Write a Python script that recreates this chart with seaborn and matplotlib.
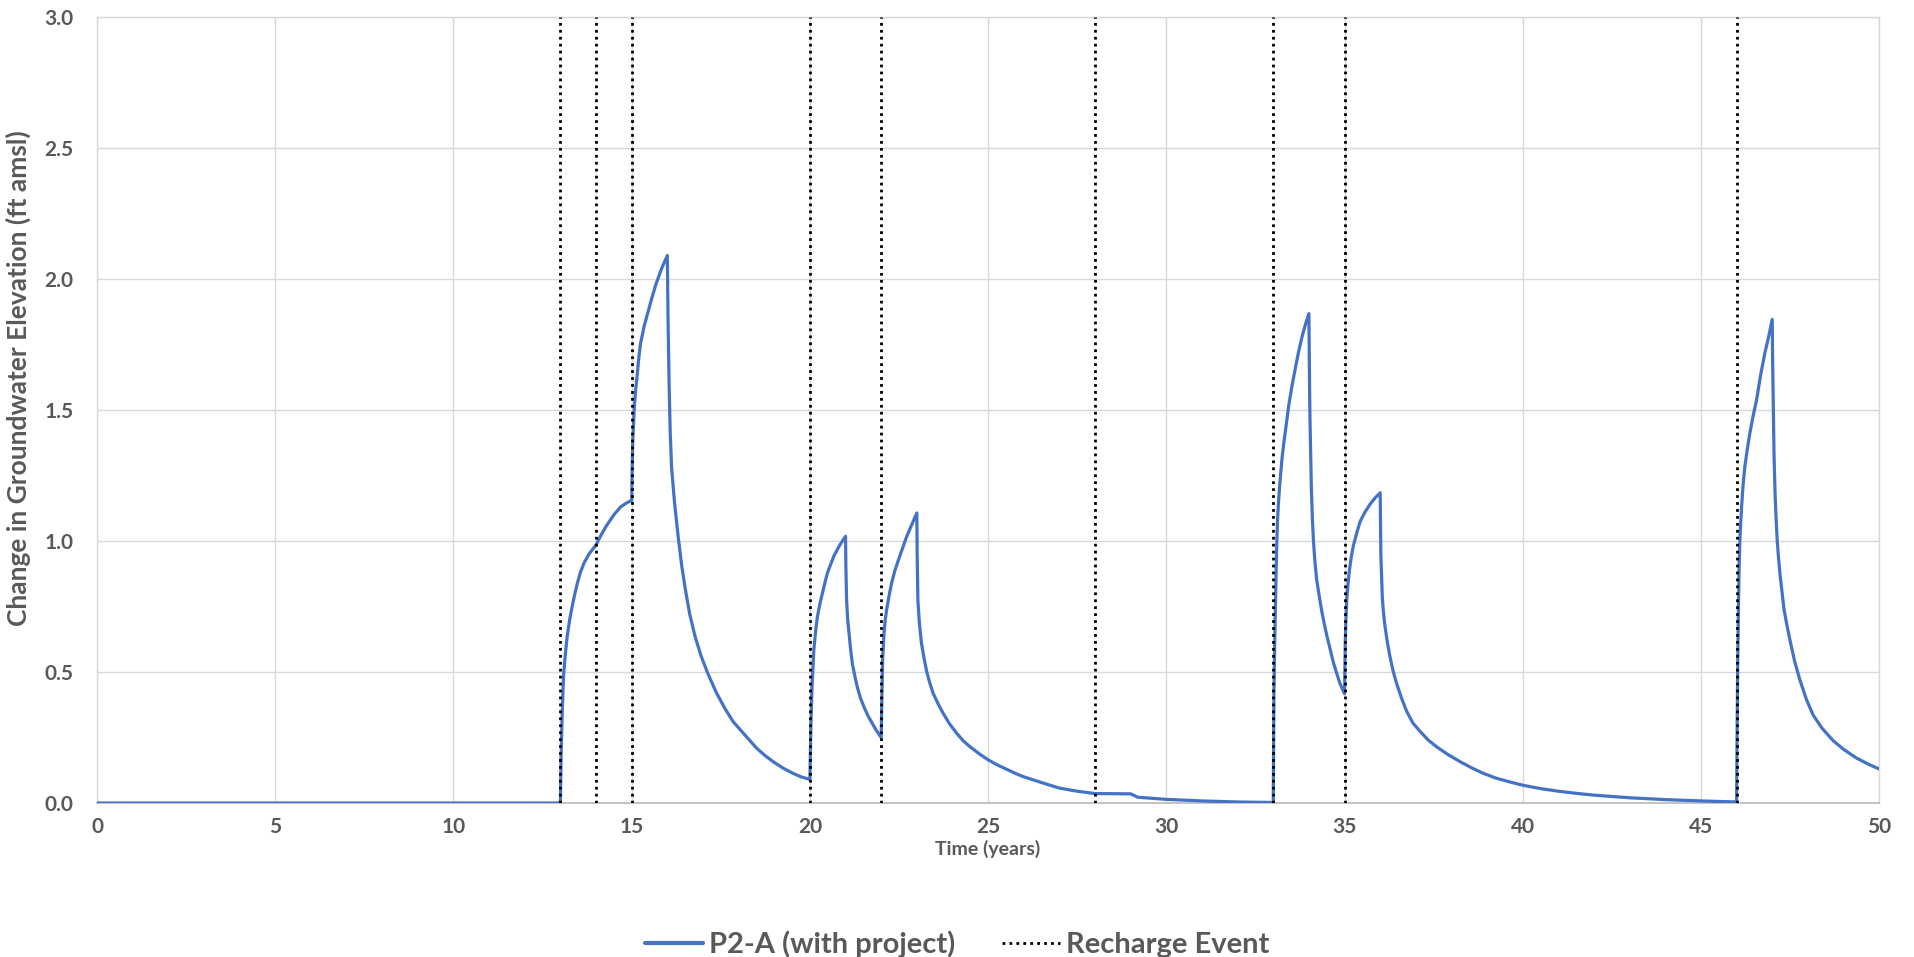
import pandas as pd
import seaborn as sns
import matplotlib
matplotlib.use("Agg")
import matplotlib.pyplot as plt
from matplotlib.lines import Line2D

# values (time in years, change in ft)
time_yr = [
    0.0, 13.0,
    13.02, 13.05, 13.09, 13.14, 13.19, 13.26, 13.33, 13.4, 13.47, 13.56, 13.66, 13.8,
    14.0, 14.15, 14.3, 14.5, 14.69, 14.85, 15.0,
    15.01, 15.03, 15.07, 15.11, 15.16, 15.2, 15.25, 15.35, 15.45, 15.56, 15.68, 15.84, 16.0,
    16.02, 16.05, 16.08, 16.12, 16.2, 16.31, 16.4, 16.5, 16.63, 16.78, 16.95, 17.15,
    17.38, 17.62, 17.85, 18.07, 18.3, 18.5, 18.75, 19.0, 19.25, 19.5, 19.75, 20.0,
    20.015, 20.03, 20.06, 20.11, 20.16, 20.21, 20.28, 20.35, 20.42, 20.49, 20.58,
    20.68, 20.84, 21.0,
    21.01, 21.03, 21.06, 21.1, 21.14, 21.19, 21.26, 21.33, 21.42, 21.52, 21.63,
    21.75, 21.87, 22.0,
    22.01, 22.02, 22.04, 22.08, 22.11, 22.15, 22.22, 22.29, 22.38, 22.48, 22.6,
    22.71, 22.85, 23.0,
    23.01, 23.02, 23.03, 23.07, 23.13, 23.2, 23.27, 23.36, 23.46, 23.6, 23.74, 23.92,
    24.12, 24.3, 24.5, 24.75, 25.0, 25.25, 25.5, 25.75, 26.0, 26.5, 27.0, 27.5, 28.0,
    29.0, 29.2, 30.0, 31.0, 32.0, 33.0,
    33.01, 33.02, 33.04, 33.06, 33.08, 33.1, 33.12, 33.15, 33.18, 33.21, 33.25, 33.3,
    33.37, 33.44, 33.53, 33.63, 33.72, 33.82, 33.91, 34.0,
    34.01, 34.02, 34.03, 34.05, 34.07, 34.1, 34.13, 34.17, 34.22, 34.29, 34.36, 34.43,
    34.5, 34.6, 34.69, 34.78, 34.87, 34.94, 35.0,
    35.01, 35.02, 35.04, 35.06, 35.1, 35.14, 35.19, 35.25, 35.34, 35.44, 35.58, 35.72,
    35.86, 36.0,
    36.01, 36.02, 36.04, 36.06, 36.09, 36.13, 36.2, 36.27, 36.36, 36.46, 36.6, 36.74,
    36.92, 37.11, 37.35, 37.58, 37.9, 38.24, 38.6, 38.9, 39.25, 39.65, 40.0, 40.5,
    41.0, 41.5, 42.0, 42.5, 43.0, 44.0, 45.0, 46.0,
    46.01, 46.03, 46.05, 46.07, 46.1, 46.14, 46.18, 46.23, 46.3, 46.37, 46.46, 46.56,
    46.67, 46.79, 46.9, 47.0,
    47.01, 47.03, 47.05, 47.08, 47.11, 47.14, 47.18, 47.22, 47.27, 47.33, 47.41, 47.5,
    47.63, 47.78, 47.96, 48.15, 48.4, 48.71, 49.0, 49.36, 49.7, 50.0,
]
elev_ft = [
    0.0, 0.0,
    0.18, 0.34, 0.49, 0.57, 0.635, 0.70, 0.75, 0.795, 0.836, 0.88, 0.915, 0.95,
    0.985, 1.025, 1.06, 1.10, 1.13, 1.145, 1.155,
    1.25, 1.38, 1.50, 1.575, 1.64, 1.70, 1.755, 1.82, 1.87, 1.925, 1.98, 2.04, 2.09,
    1.85, 1.6, 1.42, 1.28, 1.15, 1.01, 0.91, 0.82, 0.72, 0.635, 0.56, 0.49,
    0.42, 0.36, 0.31, 0.276, 0.24, 0.21, 0.18, 0.155, 0.133, 0.115, 0.10, 0.09,
    0.2, 0.31, 0.443, 0.583, 0.655, 0.71, 0.76, 0.80, 0.84, 0.877, 0.91,
    0.945, 0.985, 1.018,
    0.9, 0.774, 0.70, 0.647, 0.59, 0.533, 0.485, 0.443, 0.40, 0.366, 0.333,
    0.304, 0.276, 0.25,
    0.33, 0.40, 0.545, 0.647, 0.695, 0.735, 0.79, 0.838, 0.885, 0.926, 0.972,
    1.015, 1.06, 1.107,
    0.95, 0.85, 0.774, 0.69, 0.61, 0.555, 0.506, 0.46, 0.418, 0.378, 0.342, 0.302,
    0.266, 0.238, 0.214, 0.188, 0.165, 0.146, 0.13, 0.114, 0.10, 0.078, 0.057, 0.045, 0.036,
    0.035, 0.022, 0.014, 0.008, 0.004, 0.002,
    0.2, 0.417, 0.6, 0.746, 0.88, 0.996, 1.08, 1.154, 1.21, 1.26, 1.32, 1.378,
    1.45, 1.522, 1.595, 1.667, 1.728, 1.786, 1.83, 1.868,
    1.7, 1.58, 1.47, 1.33, 1.2, 1.08, 0.996, 0.92, 0.851, 0.79, 0.733, 0.685,
    0.641, 0.585, 0.535, 0.495, 0.457, 0.435, 0.417,
    0.52, 0.614, 0.70, 0.772, 0.84, 0.891, 0.94, 0.983, 1.03, 1.075, 1.112, 1.141,
    1.165, 1.184,
    1.06, 0.943, 0.86, 0.786, 0.73, 0.68, 0.615, 0.562, 0.505, 0.457, 0.40, 0.351,
    0.305, 0.275, 0.24, 0.215, 0.185, 0.158, 0.132, 0.113, 0.095, 0.08, 0.068, 0.055,
    0.045, 0.037, 0.03, 0.025, 0.02, 0.013, 0.008, 0.004,
    0.2, 0.518, 0.73, 0.9, 1.03, 1.13, 1.21, 1.283, 1.35, 1.41, 1.475, 1.538,
    1.63, 1.716, 1.78, 1.846,
    1.7, 1.5, 1.33, 1.18, 1.08, 1.0, 0.93, 0.87, 0.81, 0.74, 0.68, 0.62,
    0.54, 0.468, 0.395, 0.335, 0.285, 0.238, 0.205, 0.172, 0.148, 0.13,
]
recharge_yr = [13, 14, 15, 20, 22, 28, 33, 35, 46]

series_label = "P2-A (with project)"
event_label = "Recharge Event"

sns.set_style("white")
plt.rcParams["font.family"] = ["Lato", "DejaVu Sans"]
plt.rcParams["font.weight"] = "bold"

text_col = "#595959"
blue = "#4472C4"

df = pd.DataFrame({"time": time_yr, "elev": elev_ft})

fig = plt.figure(figsize=(19.14, 9.57), dpi=100)
ax = fig.add_axes([0.0507, 0.1609, 0.9311, 0.8213])

sns.lineplot(data=df, x="time", y="elev", ax=ax, color=blue, lw=2.3,
             sort=False, estimator=None, zorder=3)
for t in recharge_yr:
    ax.axvline(t, color="black", lw=2, ls=(0, (1, 1.5)), zorder=4)

ax.set_xlim(0, 50)
ax.set_ylim(0, 3.0)
ax.set_xticks(range(0, 51, 5))
ax.set_yticks([i * 0.5 for i in range(7)])
ax.set_yticklabels([f"{i * 0.5:.1f}" for i in range(7)])
ax.grid(True, color="#D9D9D9", lw=1)
ax.set_axisbelow(True)
for side in ["top", "right", "left"]:
    ax.spines[side].set_color("#D9D9D9")
    ax.spines[side].set_linewidth(1)
ax.spines["bottom"].set_color("#BFBFBF")
ax.spines["bottom"].set_linewidth(1.3)

ax.tick_params(axis="both", length=0, labelsize=15, labelcolor=text_col)
ax.tick_params(axis="y", pad=17)
ax.tick_params(axis="x", pad=10)
for lab in ax.get_xticklabels() + ax.get_yticklabels():
    lab.set_fontweight("bold")

ax.set_xlabel("Time (years)", fontsize=14, fontweight="bold", color=text_col)
ax.set_ylabel("Change in Groundwater Elevation (ft amsl)", fontsize=19,
              fontweight="bold", color=text_col)
ax.xaxis.set_label_coords(0.5, -0.047)
ax.yaxis.set_label_coords(-0.037, 0.54)

handles = [
    Line2D([], [], color=blue, lw=3),
    Line2D([], [], color="black", lw=2, ls=(0, (1, 1.5))),
]
leg = fig.legend(handles, [series_label, event_label], loc="center",
                 bbox_to_anchor=(0.5, 0.0135), ncol=2, frameon=False,
                 fontsize=21, handlelength=2.0, handletextpad=0.2,
                 columnspacing=1.6)
for txt in leg.get_texts():
    txt.set_color(text_col)
    txt.set_fontweight("bold")

fig.savefig("out.png", dpi=100)
